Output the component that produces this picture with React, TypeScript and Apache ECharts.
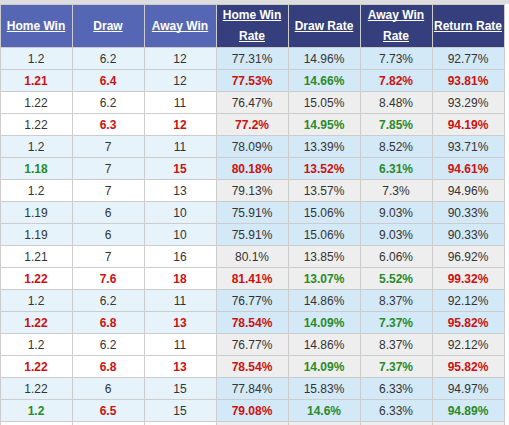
import React, { useEffect, useRef } from "react";
import * as echarts from "echarts";

// ---- data ----
const headers: string[][] = [
  ["Home Win"],
  ["Draw"],
  ["Away Win"],
  ["Home Win", "Rate"],
  ["Draw Rate"],
  ["Away Win", "Rate"],
  ["Return Rate"],
];
const homeWin = [1.2, 1.21, 1.22, 1.22, 1.2, 1.18, 1.2, 1.19, 1.19, 1.21, 1.22, 1.2, 1.22, 1.2, 1.22, 1.22, 1.2];
const draw = [6.2, 6.4, 6.2, 6.3, 7, 7, 7, 6, 6, 7, 7.6, 6.2, 6.8, 6.2, 6.8, 6, 6.5];
const awayWin = [12, 12, 11, 12, 11, 15, 13, 10, 10, 16, 18, 11, 13, 11, 13, 15, 15];
const homeWinRate = [77.31, 77.53, 76.47, 77.2, 78.09, 80.18, 79.13, 75.91, 75.91, 80.1, 81.41, 76.77, 78.54, 76.77, 78.54, 77.84, 79.08];
const drawRate = [14.96, 14.66, 15.05, 14.95, 13.39, 13.52, 13.57, 15.06, 15.06, 13.85, 13.07, 14.86, 14.09, 14.86, 14.09, 15.83, 14.6];
const awayWinRate = [7.73, 7.82, 8.48, 7.85, 8.52, 6.31, 7.3, 9.03, 9.03, 6.06, 5.52, 8.37, 7.37, 8.37, 7.37, 6.33, 6.33];
const returnRate = [92.77, 93.81, 93.29, 94.19, 93.71, 94.61, 94.96, 90.33, 90.33, 96.92, 99.32, 92.12, 95.82, 92.12, 95.82, 94.97, 94.89];
// highlight per row: n = normal, r = red bold, g = green bold
const highlights = [
  "nnnnnnn", "rrnrgrr", "nnnnnnn", "nrrrggr", "nnnnnnn", "gnrrrgr", "nnnnnnn", "nnnnnnn", "nnnnnnn",
  "nnnnnnn", "rrrrggr", "nnnnnnn", "rrrrggr", "nnnnnnn", "rrrrggr", "nnnnnnn", "grnrgng",
];
// row shading: b = blue, w = white (last row is the cut-off one)
const rowShade = ["b", "b", "w", "w", "b", "b", "w", "b", "b", "w", "w", "b", "b", "w", "w", "b", "b", "w"];

// ---- layout / style ----
const W = 509;
const H = 425;
const TOP = 4;
const HEADER_H = 43;
const ROW_H = 22;
const NCOL = 7;
const TABLE_W = 504;
const Y_MIN = -HEADER_H / ROW_H;
const Y_MAX = (H - TOP - HEADER_H) / ROW_H;

const FONT_FAMILY = "'Liberation Sans', Arial, sans-serif";
const COLORS = {
  headLeft: "#5567b4",
  headRight: "#353f7e",
  blueL: "#e6f3fb",
  blueR: "#d3e9f7",
  whiteL: "#ffffff",
  whiteR: "#eeeeee",
  border: "#cccccc",
  text: "#333333",
  red: "#cc1111",
  green: "#2a8a2a",
};

let measureCtx: CanvasRenderingContext2D | null = null;
function textWidth(s: string, font: string): number {
  if (!measureCtx) {
    const c = document.createElement("canvas");
    measureCtx = c.getContext("2d");
  }
  if (!measureCtx) return s.length * 7;
  measureCtx.font = font;
  return measureCtx.measureText(s).width;
}

type Cell = {
  col: number;
  row: number;
  header: boolean;
  lines: string[];
  mark: string;
};

function buildCells(): Cell[] {
  const cells: Cell[] = [];
  headers.forEach((h, col) => cells.push({ col, row: -1, header: true, lines: h, mark: "n" }));
  const columns = [
    homeWin.map((v) => String(v)),
    draw.map((v) => String(v)),
    awayWin.map((v) => String(v)),
    homeWinRate.map((v) => v + "%"),
    drawRate.map((v) => v + "%"),
    awayWinRate.map((v) => v + "%"),
    returnRate.map((v) => v + "%"),
  ];
  for (let row = 0; row < rowShade.length; row++) {
    for (let col = 0; col < NCOL; col++) {
      const txt = row < homeWin.length ? columns[col][row] : "";
      const mark = row < highlights.length ? highlights[row][col] : "n";
      cells.push({ col, row, header: false, lines: txt ? [txt] : [], mark });
    }
  }
  return cells;
}

export default function App() {
  const ref = useRef<HTMLDivElement>(null);
  useEffect(() => {
    if (!ref.current) return;
    const chart = echarts.init(ref.current, null, { renderer: "svg", width: W, height: H });
    const cells = buildCells();

    const renderItem = (params: any, api: any) => {
      const c = cells[params.dataIndex];
      let p0: number[];
      let p1: number[];
      if (c.header) {
        p0 = api.coord([c.col, Y_MIN]);
        p1 = api.coord([c.col + 1, 0]);
      } else {
        p0 = api.coord([c.col, c.row]);
        p1 = api.coord([c.col + 1, c.row + 1]);
      }
      const x0 = Math.round(p0[0]);
      const y0 = Math.round(p0[1]);
      const x1 = Math.round(p1[0]);
      const y1 = Math.round(p1[1]);
      const cx = (x0 + x1) / 2;
      const cy = (y0 + y1) / 2;
      const children: any[] = [];
      let fill: string;
      if (c.header) {
        fill = c.col < 3 ? COLORS.headLeft : COLORS.headRight;
      } else {
        const blue = rowShade[c.row] === "b";
        fill = c.col < 3 ? (blue ? COLORS.blueL : COLORS.whiteL) : blue ? COLORS.blueR : COLORS.whiteR;
      }
      children.push({
        type: "rect",
        shape: { x: x0 + 0.5, y: y0 + 0.5, width: x1 - x0, height: y1 - y0 },
        style: { fill, stroke: COLORS.border, lineWidth: 1 },
      });
      if (c.header) {
        const font = `bold 12px ${FONT_FAMILY}`;
        const n = c.lines.length;
        c.lines.forEach((line, i) => {
          const ty = n === 1 ? cy + 0.5 : cy + (i === 0 ? -10.5 : 10.5);
          children.push({
            type: "text",
            x: cx,
            y: ty,
            style: {
              text: line,
              fill: "#ffffff",
              font,
              align: "center",
              verticalAlign: "middle",
            },
          });
          const w = textWidth(line, font);
          const uy = Math.round(ty + 5) + 0.5;
          children.push({
            type: "line",
            shape: { x1: cx - w / 2, y1: uy, x2: cx + w / 2, y2: uy },
            style: { stroke: "#ffffff", lineWidth: 1 },
          });
        });
      } else if (c.lines.length) {
        const bold = c.mark !== "n";
        const fillText = c.mark === "r" ? COLORS.red : c.mark === "g" ? COLORS.green : COLORS.text;
        children.push({
          type: "text",
          x: cx,
          y: cy + 0.5,
          style: {
            text: c.lines[0],
            fill: fillText,
            font: `${bold ? "bold " : ""}12px ${FONT_FAMILY}`,
            align: "center",
            verticalAlign: "middle",
          },
        });
      }
      return { type: "group", children };
    };

    chart.setOption({
      animation: false,
      backgroundColor: "#ffffff",
      grid: { left: 0, top: TOP, width: TABLE_W, bottom: 0 },
      xAxis: { type: "value", min: 0, max: NCOL, show: false },
      yAxis: { type: "value", min: Y_MIN, max: Y_MAX, inverse: true, show: false },
      graphic: [
        {
          type: "rect",
          left: 0,
          top: 0,
          shape: { x: 0, y: 0, width: W, height: TOP },
          style: { fill: "#dddddd" },
          z: 10,
        },
      ],
      series: [
        {
          type: "custom",
          coordinateSystem: "cartesian2d",
          renderItem,
          clip: false,
          silent: true,
          encode: { x: 0, y: 1 },
          data: cells.map((c) => [c.col, c.row]),
        },
      ],
    });
    return () => chart.dispose();
  }, []);
  return (
    <div
      ref={ref}
      style={{ position: "fixed", left: 0, top: 0, width: W, height: H, background: "#ffffff" }}
    />
  );
}
